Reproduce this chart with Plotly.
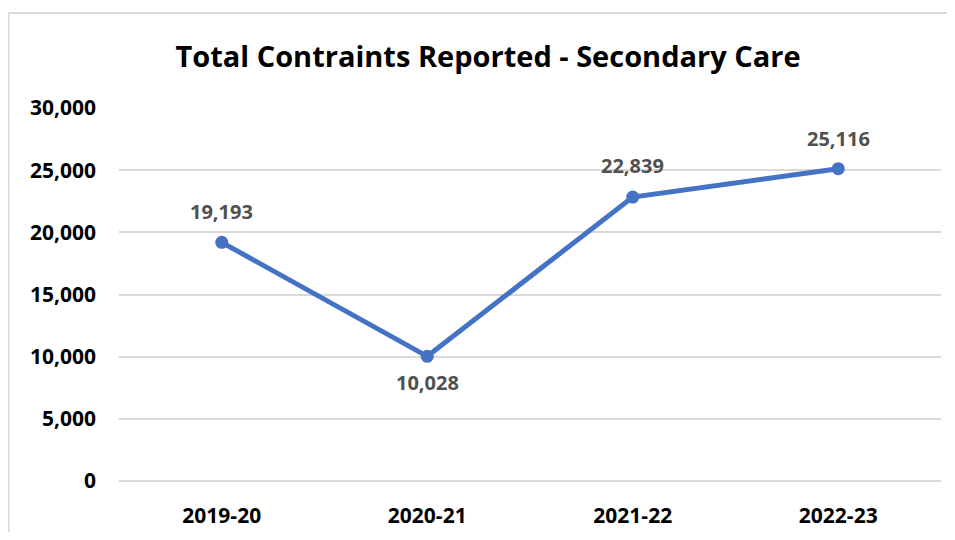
import plotly.graph_objects as go

categories = ["2019-20", "2020-21", "2021-22", "2022-23"]
values = [19193, 10028, 22839, 25116]
label_shifts = [31, -26, 32, 30]
y_ticks = [0, 5000, 10000, 15000, 20000, 25000, 30000]
title_text = "Total Contraints Reported - Secondary Care"

FONT = "Open Sans"
W, H = 939, 524
L, R, T, B = 111, 6, 100, 51
PW, PH = W - L - R, H - T - B

fig = go.Figure()
fig.add_trace(go.Scatter(
    x=categories,
    y=values,
    mode="lines+markers",
    line=dict(color="#4472C4", width=5),
    marker=dict(color="#4472C4", size=13),
    cliponaxis=False,
    hoverinfo="skip",
))

annotations = [
    dict(x=c, y=v, xref="x", yref="y", text=f"{v:,}", showarrow=False,
         xanchor="center", yanchor="middle", yshift=s,
         font=dict(family=FONT, size=20, color="#505050", weight="bold"))
    for c, v, s in zip(categories, values, label_shifts)
]

fig.update_layout(
    width=W,
    height=H,
    margin=dict(l=L, r=R, t=T, b=B, autoexpand=False),
    paper_bgcolor="white",
    plot_bgcolor="white",
    showlegend=False,
    annotations=annotations,
    title=dict(
        text=title_text,
        x=480 / W,
        xref="container",
        xanchor="center",
        y=1 - 49 / H,
        yref="container",
        yanchor="middle",
        font=dict(family=FONT, size=29, color="black", weight="bold"),
    ),
    xaxis=dict(
        type="category",
        range=[-0.5, 3.5],
        showgrid=False,
        showline=False,
        zeroline=False,
        ticks="",
        tickfont=dict(family=FONT, size=21, color="black", weight="bold"),
        ticklabelstandoff=20,
    ),
    yaxis=dict(
        range=[0, 30000],
        tickvals=y_ticks,
        tickformat=",",
        showgrid=True,
        gridcolor="#d9d9d9",
        gridwidth=1.5,
        zeroline=True,
        zerolinecolor="#d9d9d9",
        zerolinewidth=1.5,
        showline=False,
        ticks="",
        tickfont=dict(family=FONT, size=21, color="black", weight="bold"),
        ticklabelstandoff=22,
    ),
    shapes=[
        dict(type="line", xref="paper", yref="paper",
             x0=(0.5 - L) / PW, x1=(0.5 - L) / PW,
             y0=(PH + T - 5) / PH, y1=-0.3,
             line=dict(color="#d9d9d9", width=2)),
        dict(type="line", xref="paper", yref="paper",
             x0=(0.5 - L) / PW, x1=1.1,
             y0=(PH + T - 5) / PH, y1=(PH + T - 5) / PH,
             line=dict(color="#d9d9d9", width=2)),
    ],
)

fig.write_html("out.html")
